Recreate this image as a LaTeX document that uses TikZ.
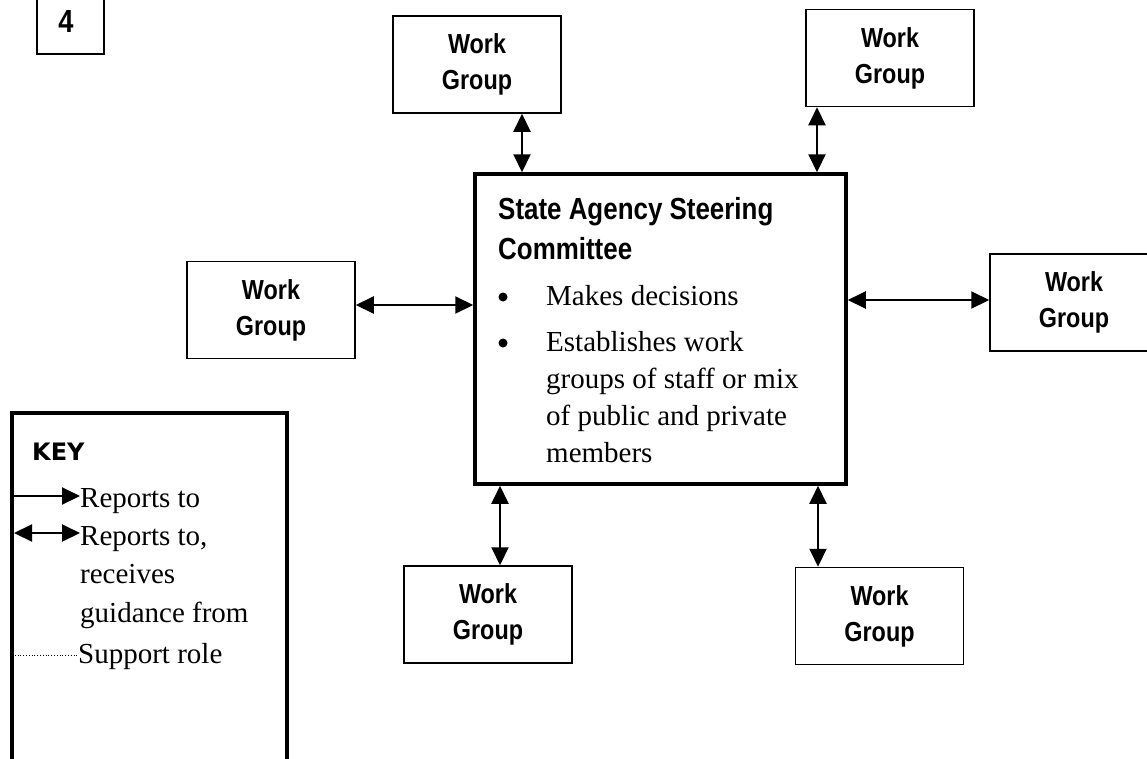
\documentclass[tikz,border=0pt]{standalone}
\usepackage{fontspec}
\setmainfont{Liberation Serif}
\newfontfamily\hd{Liberation Sans}[FakeStretch=0.85]
\newfontfamily\keyfont{DejaVu Sans}
\usetikzlibrary{arrows.meta}
\begin{document}
\begin{tikzpicture}[x=1pt,y=-1pt,
  groupbox/.style={draw,line width=1.5pt,minimum width=168pt,minimum height=97pt,
    inner sep=0pt,align=center,font=\hd\bfseries\fontsize{27.5}{36}\selectfont},
  bigbox/.style={draw,line width=3.5pt},
  dbl/.style={line width=2pt,{Triangle[length=18pt,width=17pt]}-{Triangle[length=18pt,width=17pt]}},
  sgl/.style={line width=2pt,-{Triangle[length=18pt,width=17pt]}},
  body/.style={anchor=base west,inner sep=0pt,font=\fontsize{29}{37}\selectfont},
  dot/.style={circle,fill,minimum size=9pt,inner sep=0pt},
  title/.style={anchor=base west,inner sep=0pt,font=\hd\bfseries\fontsize{30.5}{40}\selectfont}]
\useasboundingbox (0,0) rectangle (1147,758);
\clip (0,0) rectangle (1147,758);

% page number box
\node[draw,line width=1.5pt,minimum width=67pt,minimum height=64pt,inner sep=0pt] (num) at (70.5,22) {};
\node[anchor=base,inner sep=0pt,font=\hd\bfseries\fontsize{32}{36}\selectfont] (numtext) at (66,32.5) {4};

% steering committee
\node[bigbox,inner sep=0pt,minimum width=371pt,minimum height=310pt] (main) at (660.5,329) {};
\node[title] (t1) at (498,219) {State Agency Steering};
\node[title] (t2) at (498,259) {Committee};
\node[dot] (b1) at (503,297) {};
\node[body] (l1) at (546,305) {Makes decisions};
\node[dot] (b2) at (503,343) {};
\node[body] (l2) at (546,351) {Establishes work};
\node[body] (l3) at (546,388) {groups of staff or mix};
\node[body] (l4) at (546,425) {of public and private};
\node[body] (l5) at (546,462) {members};

% work groups
\node[groupbox] (wgtl) at (477,64.5) {Work\\Group};
\node[groupbox] (wgtr) at (890,58) {Work\\Group};
\node[groupbox] (wgl) at (271,310) {Work\\Group};
\node[groupbox] (wgr) at (1074,302.5) {Work\\Group};
\node[groupbox] (wgbl) at (488,614.5) {Work\\Group};
\node[groupbox] (wgbr) at (879.5,616) {Work\\Group};

% connectors
\coordinate (xtl) at (522,0);
\coordinate (xtr) at (817,0);
\coordinate (xbl) at (500,0);
\coordinate (xbr) at (818,0);
\coordinate (yl) at (0,305);
\coordinate (yr) at (0,300);
\draw[dbl] (wgtl.south -| xtl) -- (main.north -| xtl);
\draw[dbl] (wgtr.south -| xtr) -- (main.north -| xtr);
\draw[dbl] (wgl.east |- yl) -- (main.west |- yl);
\draw[dbl] (main.east |- yr) -- (wgr.west |- yr);
\draw[dbl] (main.south -| xbl) -- (wgbl.north -| xbl);
\draw[dbl] (main.south -| xbr) -- (wgbr.north -| xbr);

% key
\node[bigbox,inner sep=0pt,minimum width=275pt,minimum height=367pt] (keybox) at (149.5,596.5) {};
\node[anchor=base west,inner sep=0pt,font=\keyfont\bfseries\fontsize{24}{28}\selectfont] (key) at (32,460) {KEY};
\coordinate (k1a) at (12,496);
\node[body] (k1) at (80,507) {Reports to};
\draw[sgl] (k1a) -- (k1.west |- k1a);
\coordinate (k2a) at (14,533);
\node[body] (k2) at (80,545) {Reports to,};
\draw[dbl] (k2a) -- (k2.west |- k2a);
\node[body] (k3) at (80,583) {receives};
\node[body] (k4) at (80,622) {guidance from};
\coordinate (k5a) at (12,655);
\node[body] (k5) at (78,663) {Support role};
\draw[line width=0.8pt,dotted] (k5a) -- (k5.west |- k5a);
\end{tikzpicture}
\end{document}
